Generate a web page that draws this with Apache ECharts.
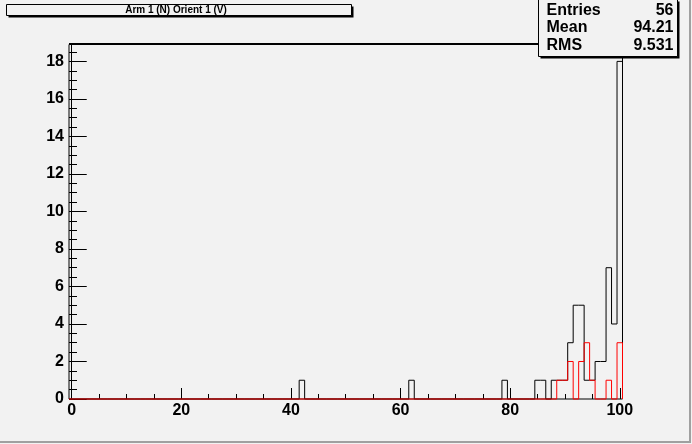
<!DOCTYPE html>
<html>
<head>
<meta charset="utf-8">
<script src="https://cdn.jsdelivr.net/npm/echarts@6/dist/echarts.min.js"></script>
<style>
  html, body { margin: 0; padding: 0; background: #f2f2f2; }
  #chart { width: 692px; height: 444px; }
</style>
</head>
<body>
<div id="chart"></div>
<script>
// histogram contents (bin centre -> entries), 101 bins from -0.5 to 100.5
const binsBlack = [42, 62, 79, 85, 86, 88, 89, 90, 91, 92, 93, 94, 95, 96, 97, 98, 99, 100];
const countsBlack = [1, 1, 1, 1, 1, 1, 1, 1, 3, 5, 5, 1, 1, 2, 2, 7, 4, 18];
const binsRed = [89, 90, 91, 93, 94, 95, 98, 100];
const countsRed = [1, 1, 2, 2, 3, 1, 1, 3];

const titleText = 'Arm 1 (N) Orient 1 (V)';
const statsLabels = ['Entries', 'Mean', 'RMS'];
const statsValues = ['56', '94.21', '9.531'];

const FONT = '"Liberation Sans", Arial, Helvetica, sans-serif';

// step outline of a histogram, like ROOT draws it
function outline(bins, counts) {
  const h = new Array(101).fill(0);
  bins.forEach((b, i) => { h[b] = counts[i]; });
  const pts = [[-0.5, 0]];
  for (let b = 0; b <= 100; b++) {
    pts.push([b - 0.5, h[b]], [b + 0.5, h[b]]);
  }
  pts.push([100.5, 0]);
  return pts;
}

const myChart = echarts.init(document.getElementById('chart'), null, { renderer: 'canvas' });

const frame = { left: 69, right: 692 - 622.5, top: 44.5, bottom: 444 - 399 };

const statsGraphics = [];
statsLabels.forEach((lab, i) => {
  const y = 10.5 + i * 17.5;
  statsGraphics.push({
    type: 'text', z: 102, x: 546.5, y: y,
    style: { text: lab, font: 'bold 16px ' + FONT, fill: '#000', align: 'left', verticalAlign: 'middle' }
  });
  statsGraphics.push({
    type: 'text', z: 102, x: 673.5, y: y,
    style: { text: statsValues[i], font: 'bold 16px ' + FONT, fill: '#000', align: 'right', verticalAlign: 'middle' }
  });
});

const option = {
  animation: false,
  backgroundColor: '#f2f2f2',
  grid: [
    { // frame, data axes
      left: frame.left, right: frame.right, top: frame.top, bottom: frame.bottom,
      show: true, borderColor: '#000', borderWidth: 1, backgroundColor: 'transparent'
    },
    { // x tick axis: 0 .. 100 placed inside the -0.5 .. 100.5 frame
      left: 71.7, right: 692 - 619.8, top: frame.top, bottom: frame.bottom
    }
  ],
  xAxis: [
    {
      gridIndex: 0, type: 'value', min: -0.5, max: 100.5,
      axisLine: { show: false }, axisTick: { show: false }, axisLabel: { show: false },
      splitLine: { show: false }
    },
    {
      gridIndex: 1, type: 'value', min: 0, max: 100, interval: 20,
      axisLine: { show: false },
      axisTick: { show: true, inside: true, length: 11, lineStyle: { color: '#000', width: 1 } },
      minorTick: { show: true, splitNumber: 4, length: 5, lineStyle: { color: '#000', width: 1 } },
      axisLabel: { show: true, margin: 4, color: '#000', fontSize: 16, fontWeight: 'bold', fontFamily: FONT },
      splitLine: { show: false }
    }
  ],
  yAxis: [
    {
      gridIndex: 0, type: 'value', position: 'left', min: 0, max: 18.9, interval: 2,
      axisLine: { show: true, lineStyle: { color: '#000', width: 1 } },
      axisTick: { show: true, inside: true, length: 15, lineStyle: { color: '#000', width: 1 } },
      axisLabel: { show: true, margin: 5, showMaxLabel: false, color: '#000', fontSize: 16, fontWeight: 'bold', fontFamily: FONT },
      splitLine: { show: false }
    },
    {
      gridIndex: 0, type: 'value', position: 'left', offset: 0, min: 0, max: 18.9, interval: 0.5,
      axisLine: { show: false },
      axisTick: { show: true, inside: true, length: 8, lineStyle: { color: '#000', width: 1 } },
      axisLabel: { show: false },
      splitLine: { show: false }
    },
    {
      gridIndex: 1, type: 'value', min: 0, max: 18.9, show: false
    }
  ],
  series: [
    {
      name: 'all', type: 'line', xAxisIndex: 0, yAxisIndex: 0,
      data: outline(binsBlack, countsBlack),
      symbol: 'none', clip: false, z: 3,
      lineStyle: { color: '#000', width: 1 }
    },
    {
      name: 'selected', type: 'line', xAxisIndex: 0, yAxisIndex: 0,
      data: outline(binsRed, countsRed),
      symbol: 'none', clip: false, z: 4,
      lineStyle: { color: '#ff0000', width: 1 }
    }
  ],
  graphic: [
    // thick top frame line
    { type: 'rect', z: 90, shape: { x: 69, y: 43, width: 553.5, height: 2 }, style: { fill: '#000' } },
    // canvas bevel
    { type: 'rect', z: 90, shape: { x: 689, y: 0, width: 2, height: 443 }, style: { fill: '#a0a0a0' } },
    { type: 'rect', z: 90, shape: { x: 0, y: 441, width: 691, height: 2 }, style: { fill: '#a0a0a0' } },
    // title pave
    { type: 'rect', z: 100, shape: { x: 8.5, y: 6.5, width: 345, height: 11 }, style: { fill: '#000' } },
    { type: 'rect', z: 101, shape: { x: 6.5, y: 4.5, width: 345, height: 11 }, style: { fill: '#f2f2f2', stroke: '#000', lineWidth: 1 } },
    {
      type: 'text', z: 102, x: 176, y: 10.5,
      style: { text: titleText, font: 'bold 10px ' + FONT, fill: '#000', align: 'center', verticalAlign: 'middle' }
    },
    // stats pave
    { type: 'rect', z: 100, shape: { x: 540.5, y: 1.5, width: 139, height: 57 }, style: { fill: '#000' } },
    { type: 'rect', z: 101, shape: { x: 538.5, y: -0.5, width: 139, height: 57 }, style: { fill: '#f2f2f2', stroke: '#000', lineWidth: 1 } }
  ].concat(statsGraphics)
};

myChart.setOption(option);
</script>
</body>
</html>
